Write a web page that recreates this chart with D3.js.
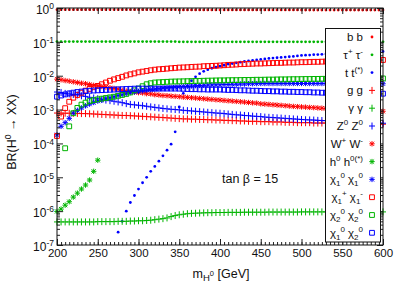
<!DOCTYPE html>
<html><head><meta charset="utf-8">
<script src="https://cdn.jsdelivr.net/npm/d3@7"></script>
<style>
body{margin:0;background:#fff}
svg{display:block}
text{font-family:"Liberation Sans",Arial,Helvetica,sans-serif;fill:#111}
</style>
</head><body>
<svg id="c" width="409" height="286"></svg>
<script>
// ---------------- data ----------------
const masses = [200,205,210,215,220,225,230,235,240,245,250,255,260,265,270,275,280,285,290,295,
300,305,310,315,320,325,330,335,340,345,350,355,360,365,370,375,380,385,390,395,
400,405,410,415,420,425,430,435,440,445,450,455,460,465,470,475,480,485,490,495,
500,505,510,515,520,525,530,535,540,545,550,555,560,565,570,575,580,585,590,595,600];

const brBB = [0.89,0.89,0.89,0.89,0.89,0.89,0.89,0.89,0.89,0.89,0.89,0.89,0.89,0.89,0.89,0.89,0.89,0.89,0.89,0.89,
0.89,0.89,0.89,0.89,0.89,0.89,0.89,0.89,0.89,0.89,0.88,0.88,0.88,0.88,0.88,0.88,0.88,0.88,0.88,0.88,
0.88,0.88,0.88,0.88,0.88,0.88,0.88,0.88,0.88,0.88,0.88,0.88,0.88,0.88,0.88,0.88,0.88,0.88,0.88,0.88,
0.87,0.87,0.87,0.87,0.87,0.87,0.87,0.87,0.87,0.87,0.87,0.87,0.87,0.87,0.87,0.87,0.87,0.87,0.87,0.87,0.87];

const brTauTau = [0.102,0.102,0.102,0.102,0.102,0.102,0.102,0.102,0.102,0.102,0.102,0.102,0.102,0.102,0.102,0.102,0.102,0.102,0.102,0.102,
0.102,0.102,0.102,0.102,0.102,0.102,0.102,0.102,0.102,0.102,0.100,0.100,0.100,0.100,0.100,0.100,0.100,0.100,0.100,0.100,
0.100,0.100,0.100,0.100,0.100,0.100,0.100,0.100,0.100,0.100,0.100,0.100,0.100,0.100,0.100,0.100,0.100,0.100,0.100,0.100,
0.100,0.100,0.100,0.100,0.100,0.100,0.100,0.100,0.100,0.100,0.100,0.100,0.100,0.100,0.100,0.100,0.100,0.100,0.100,0.100,0.100];

const brTT = [null,null,null,null,null,null,null,null,null,null,
null,null,null,null,null,2.4e-7,5.0e-7,1.0e-6,1.8e-6,2.9e-6,
4.5e-6,6.9e-6,1.0e-5,1.5e-5,2.1e-5,3.0e-5,4.3e-5,6.3e-5,9.5e-5,2.2e-4,
1.2e-3,3.0e-3,5.0e-3,7.1e-3,9.3e-3,1.15e-2,1.35e-2,1.51e-2,1.66e-2,1.78e-2,
1.91e-2,2.04e-2,2.19e-2,2.29e-2,2.40e-2,2.51e-2,2.63e-2,2.72e-2,2.82e-2,2.92e-2,
3.02e-2,3.13e-2,3.24e-2,3.31e-2,3.39e-2,3.47e-2,3.55e-2,3.63e-2,3.72e-2,3.85e-2,
3.98e-2,4.03e-2,4.07e-2,4.17e-2,4.22e-2,4.27e-2,4.37e-2,4.42e-2,4.47e-2,4.52e-2,
4.57e-2,4.62e-2,4.68e-2,4.79e-2,4.84e-2,4.90e-2,4.95e-2,5.01e-2,5.07e-2,5.13e-2,5.19e-2];

const brGG = [7.9e-4,7.9e-4,7.8e-4,7.8e-4,7.7e-4,7.7e-4,7.6e-4,7.6e-4,7.5e-4,7.4e-4,
7.3e-4,7.2e-4,7.1e-4,7.0e-4,6.9e-4,6.8e-4,6.7e-4,6.7e-4,6.6e-4,6.5e-4,
6.4e-4,6.3e-4,6.2e-4,6.1e-4,6.0e-4,5.9e-4,5.8e-4,5.7e-4,5.6e-4,5.5e-4,
5.4e-4,5.3e-4,5.3e-4,5.2e-4,5.2e-4,5.1e-4,5.1e-4,5.0e-4,5.0e-4,4.9e-4,
4.9e-4,4.8e-4,4.8e-4,4.7e-4,4.7e-4,4.6e-4,4.6e-4,4.5e-4,4.5e-4,4.5e-4,
4.4e-4,4.4e-4,4.4e-4,4.3e-4,4.3e-4,4.3e-4,4.2e-4,4.2e-4,4.2e-4,4.1e-4,
4.1e-4,4.1e-4,4.1e-4,4.0e-4,4.0e-4,4.0e-4,4.0e-4,3.9e-4,3.9e-4,3.9e-4,
3.9e-4,3.9e-4,3.8e-4,3.8e-4,3.8e-4,3.8e-4,3.8e-4,3.7e-4,3.7e-4,3.7e-4,3.7e-4];

const brGamGam = [4.8e-7,4.8e-7,4.8e-7,4.8e-7,4.8e-7,4.8e-7,4.8e-7,4.8e-7,4.8e-7,4.8e-7,
4.9e-7,4.9e-7,4.9e-7,4.9e-7,4.9e-7,5.0e-7,5.0e-7,5.0e-7,5.1e-7,5.1e-7,
5.2e-7,5.2e-7,5.3e-7,5.4e-7,5.6e-7,5.8e-7,6.0e-7,6.3e-7,6.9e-7,7.4e-7,
7.8e-7,8.1e-7,8.4e-7,8.6e-7,8.7e-7,8.8e-7,8.9e-7,9.0e-7,9.0e-7,9.1e-7,
9.1e-7,9.1e-7,9.2e-7,9.2e-7,9.2e-7,9.2e-7,9.3e-7,9.3e-7,9.3e-7,9.3e-7,
9.3e-7,9.3e-7,9.4e-7,9.4e-7,9.4e-7,9.4e-7,9.4e-7,9.4e-7,9.4e-7,9.4e-7,
9.5e-7,9.5e-7,9.5e-7,9.5e-7,9.5e-7,9.5e-7,9.5e-7,9.5e-7,9.5e-7,9.5e-7,
9.5e-7,9.5e-7,9.5e-7,9.5e-7,9.5e-7,9.5e-7,9.5e-7,9.5e-7,9.5e-7,9.5e-7,9.5e-7];

const brZZ = [3.3e-3,3.2e-3,3.0e-3,2.9e-3,2.8e-3,2.7e-3,2.55e-3,2.45e-3,2.3e-3,2.2e-3,
2.1e-3,2.0e-3,1.9e-3,1.83e-3,1.76e-3,1.68e-3,1.6e-3,1.5e-3,1.42e-3,1.38e-3,
1.34e-3,1.3e-3,1.25e-3,1.2e-3,1.16e-3,1.12e-3,1.08e-3,1.05e-3,1.02e-3,1.0e-3,
9.8e-4,9.5e-4,9.3e-4,9.1e-4,8.9e-4,8.7e-4,8.5e-4,8.3e-4,8.1e-4,7.9e-4,
7.8e-4,7.6e-4,7.4e-4,7.2e-4,7.0e-4,6.9e-4,6.7e-4,6.6e-4,6.4e-4,6.3e-4,
6.2e-4,6.0e-4,5.9e-4,5.8e-4,5.7e-4,5.6e-4,5.5e-4,5.4e-4,5.3e-4,5.2e-4,
5.1e-4,5.0e-4,4.95e-4,4.9e-4,4.8e-4,4.75e-4,4.7e-4,4.6e-4,4.55e-4,4.5e-4,
4.45e-4,4.4e-4,4.35e-4,4.3e-4,4.25e-4,4.2e-4,4.15e-4,4.1e-4,4.05e-4,4.0e-4,3.95e-4];

const brWW = [7.9e-3,7.6e-3,7.2e-3,6.9e-3,6.6e-3,6.3e-3,6.0e-3,5.8e-3,5.5e-3,5.2e-3,
5.0e-3,4.8e-3,4.6e-3,4.4e-3,4.2e-3,4.0e-3,3.7e-3,3.5e-3,3.4e-3,3.3e-3,
3.16e-3,3.1e-3,2.95e-3,2.9e-3,2.75e-3,2.7e-3,2.6e-3,2.57e-3,2.5e-3,2.45e-3,
2.4e-3,2.34e-3,2.29e-3,2.24e-3,2.19e-3,2.14e-3,2.09e-3,2.04e-3,2.0e-3,1.95e-3,
1.91e-3,1.86e-3,1.82e-3,1.78e-3,1.74e-3,1.70e-3,1.66e-3,1.62e-3,1.58e-3,1.55e-3,
1.48e-3,1.45e-3,1.42e-3,1.39e-3,1.36e-3,1.33e-3,1.30e-3,1.27e-3,1.24e-3,1.22e-3,
1.20e-3,1.18e-3,1.16e-3,1.14e-3,1.12e-3,1.10e-3,1.08e-3,1.07e-3,1.05e-3,1.04e-3,
1.02e-3,1.01e-3,9.9e-4,9.8e-4,9.6e-4,9.5e-4,9.3e-4,9.2e-4,9.1e-4,9.0e-4,8.9e-4];

const brHH = [9.8e-7,1.15e-6,1.5e-6,1.9e-6,2.6e-6,3.4e-6,4.5e-6,5.9e-6,8.3e-6,1.5e-5,3.2e-5];

const brN1N1 = [1.8e-4,3.2e-4,4.1e-4,5.5e-4,7.9e-4,9.5e-4,1.12e-3,1.29e-3,1.45e-3,1.62e-3,
1.78e-3,1.9e-3,2.1e-3,2.25e-3,2.4e-3,2.6e-3,2.75e-3,2.95e-3,3.16e-3,3.3e-3,
3.45e-3,3.6e-3,3.75e-3,3.9e-3,4.0e-3,4.15e-3,4.3e-3,4.4e-3,4.5e-3,4.6e-3,
4.7e-3,4.8e-3,4.9e-3,5.0e-3,5.1e-3,5.15e-3,5.2e-3,5.3e-3,5.35e-3,5.4e-3,
5.4e-3,5.5e-3,5.5e-3,5.6e-3,5.6e-3,5.7e-3,5.7e-3,5.8e-3,5.8e-3,5.85e-3,
5.9e-3,5.9e-3,5.9e-3,5.9e-3,5.9e-3,5.9e-3,5.9e-3,5.9e-3,5.9e-3,5.9e-3,
5.9e-3,5.9e-3,5.9e-3,5.9e-3,5.9e-3,5.9e-3,5.9e-3,5.9e-3,5.85e-3,5.85e-3,
5.85e-3,5.85e-3,5.85e-3,5.85e-3,5.8e-3,5.8e-3,5.8e-3,5.8e-3,5.8e-3,5.8e-3,5.8e-3];

const brC1C1 = [1.66e-4,6.2e-4,1.10e-3,1.70e-3,2.24e-3,2.69e-3,3.16e-3,3.63e-3,4.07e-3,4.57e-3,
5.0e-3,5.6e-3,6.3e-3,7.1e-3,7.8e-3,8.5e-3,9.3e-3,1.02e-2,1.10e-2,1.17e-2,
1.26e-2,1.32e-2,1.38e-2,1.45e-2,1.51e-2,1.55e-2,1.58e-2,1.62e-2,1.66e-2,1.70e-2,
1.74e-2,1.76e-2,1.78e-2,1.82e-2,1.84e-2,1.86e-2,1.91e-2,1.93e-2,1.95e-2,1.97e-2,
2.0e-2,2.04e-2,2.09e-2,2.11e-2,2.14e-2,2.19e-2,2.21e-2,2.24e-2,2.26e-2,2.29e-2,
2.29e-2,2.32e-2,2.34e-2,2.37e-2,2.40e-2,2.40e-2,2.43e-2,2.45e-2,2.45e-2,2.48e-2,
2.51e-2,2.51e-2,2.54e-2,2.57e-2,2.57e-2,2.60e-2,2.63e-2,2.63e-2,2.66e-2,2.69e-2,
2.69e-2,2.72e-2,2.75e-2,2.75e-2,2.79e-2,2.82e-2,2.82e-2,2.85e-2,2.88e-2,2.88e-2,2.92e-2];

const brN2N2 = [null,null,7.2e-5,3.2e-4,7.8e-4,1.12e-3,1.4e-3,1.6e-3,1.78e-3,1.9e-3,
2.0e-3,2.1e-3,2.2e-3,2.3e-3,2.4e-3,2.55e-3,2.7e-3,2.9e-3,3.2e-3,3.7e-3,
4.2e-3,4.9e-3,5.6e-3,6.0e-3,6.3e-3,6.4e-3,6.5e-3,6.6e-3,6.7e-3,6.75e-3,
6.8e-3,6.85e-3,6.9e-3,6.95e-3,7.0e-3,7.05e-3,7.1e-3,7.15e-3,7.2e-3,7.25e-3,
7.3e-3,7.3e-3,7.35e-3,7.4e-3,7.4e-3,7.45e-3,7.5e-3,7.5e-3,7.55e-3,7.6e-3,
7.6e-3,7.65e-3,7.7e-3,7.7e-3,7.75e-3,7.8e-3,7.8e-3,7.85e-3,7.9e-3,7.9e-3,
7.95e-3,8.0e-3,8.0e-3,8.05e-3,8.05e-3,8.1e-3,8.1e-3,8.1e-3,8.15e-3,8.15e-3,
8.2e-3,8.2e-3,8.2e-3,8.25e-3,8.25e-3,8.25e-3,8.3e-3,8.3e-3,8.3e-3,8.3e-3,8.3e-3];

const brN1N2 = [2.4e-3,2.6e-3,2.8e-3,3.0e-3,3.16e-3,3.3e-3,3.4e-3,3.5e-3,3.6e-3,3.65e-3,
3.7e-3,3.75e-3,3.8e-3,3.85e-3,3.9e-3,3.95e-3,4.0e-3,4.05e-3,4.1e-3,4.15e-3,
4.17e-3,4.17e-3,4.17e-3,4.17e-3,4.17e-3,4.17e-3,4.17e-3,4.17e-3,4.17e-3,4.17e-3,
4.15e-3,4.1e-3,4.05e-3,4.0e-3,4.0e-3,3.95e-3,3.95e-3,3.9e-3,3.9e-3,3.9e-3,
3.9e-3,3.85e-3,3.8e-3,3.8e-3,3.75e-3,3.7e-3,3.7e-3,3.65e-3,3.6e-3,3.6e-3,
3.55e-3,3.5e-3,3.5e-3,3.45e-3,3.45e-3,3.4e-3,3.4e-3,3.35e-3,3.35e-3,3.3e-3,
3.3e-3,3.25e-3,3.25e-3,3.2e-3,3.2e-3,3.15e-3,3.15e-3,3.1e-3,3.1e-3,3.1e-3,
3.1e-3,3.05e-3,3.05e-3,3.0e-3,3.0e-3,3.0e-3,3.0e-3,2.95e-3,2.95e-3,2.95e-3,2.95e-3];

const xTicks = [200,250,300,350,400,450,500,550,600];
const yTickExps = [0,-1,-2,-3,-4,-5,-6,-7];

// legend labels: parts [text, kind]  kind: n normal, sup, sub
const legendLabels = [
  [["b b","n"]],
  [["τ","n"],["+","sup"],[" τ","n"],["-","sup"]],
  [["t t","n"],["(*)","sup"]],
  [["g g","n"]],
  [["γ γ","n"]],
  [["Z","n"],["0","sup"],[" Z","n"],["0","sup"]],
  [["W","n"],["+","sup"],[" W","n"],["-","sup"]],
  [["h","n"],["0","sup"],[" h","n"],["0(*)","sup"]],
  [["χ","n"],["1","sub"],["0","sup"],[" χ","n"],["1","sub"],["0","sup"]],
  [["χ","n"],["1","sub"],["+","sup"],[" χ","n"],["1","sub"],["-","sup"]],
  [["χ","n"],["2","sub"],["0","sup"],[" χ","n"],["2","sub"],["0","sup"]],
  [["χ","n"],["1","sub"],["0","sup"],[" χ","n"],["2","sub"],["0","sup"]]
];

const RED="#ff0000", GREEN="#00b400", BLUE="#0000ff";
const series = [
  {v:brBB, c:RED, m:"dot"},
  {v:brTauTau, c:GREEN, m:"dot"},
  {v:brTT, c:BLUE, m:"dot"},
  {v:brGG, c:RED, m:"plus"},
  {v:brGamGam, c:GREEN, m:"plus"},
  {v:brZZ, c:BLUE, m:"plus"},
  {v:brWW, c:RED, m:"star"},
  {v:brHH, c:GREEN, m:"star"},
  {v:brN1N1, c:BLUE, m:"star"},
  {v:brC1C1, c:RED, m:"square"},
  {v:brN2N2, c:GREEN, m:"square"},
  {v:brN1N2, c:BLUE, m:"square"}
];

// ---------------- drawing ----------------
const svg = d3.select("#c");
const L=57, R=383, T=8, B=245;
const x = d3.scaleLinear().domain([200,600]).range([L,R]);
const y = d3.scaleLog().domain([1e-7,1]).range([B,T]);

const markerPath = {
  plus:"M-3,0H3M0,-3.5V3.5",
  star:"M-2.7,0H2.7M0,-2.7V2.7M-2.1,-2.1L2.1,2.1M-2.1,2.1L2.1,-2.1",
  square:"M-2.4,-2.4H2.4V2.4H-2.4Z"
};
function drawMarker(g, kind, color){
  if(kind==="dot"){
    g.append("circle").attr("r",1.4).attr("fill",color);
  } else {
    g.append("path").attr("d",markerPath[kind]).attr("fill","none")
     .attr("stroke",color).attr("stroke-width",1);
  }
}

const plot = svg.append("g");
series.forEach(s=>{
  const pts = s.v.map((v,i)=>({m:masses[i],v})).filter(d=>d.v!=null);
  const gs = plot.append("g").selectAll("g").data(pts).join("g")
    .attr("transform",d=>`translate(${x(d.m)},${y(d.v)})`);
  gs.each(function(){ drawMarker(d3.select(this), s.m, s.c); });
});

// axes
const minorX = masses;
const minorY = [];
for(let e=-7;e<0;e++) for(let k=2;k<=9;k++) minorY.push(k*Math.pow(10,e));
const majorY = yTickExps.map(e=>Math.pow(10,e));

function styleAxis(g){ g.select(".domain").remove(); g.selectAll("line").attr("stroke","#222"); }

svg.append("g").attr("transform",`translate(0,${B})`)
  .call(d3.axisBottom(x).tickValues(minorX).tickSizeInner(-3).tickSizeOuter(0).tickFormat(""))
  .call(styleAxis);
svg.append("g").attr("transform",`translate(0,${T})`)
  .call(d3.axisTop(x).tickValues(minorX).tickSizeInner(-3).tickSizeOuter(0).tickFormat(""))
  .call(styleAxis);
const xb = svg.append("g").attr("transform",`translate(0,${B})`)
  .call(d3.axisBottom(x).tickValues(xTicks).tickSizeInner(-6).tickSizeOuter(0).tickPadding(4).tickFormat(d3.format("d")))
  .call(styleAxis);
xb.selectAll("text").attr("font-size","11.5px").attr("fill","#111");
svg.append("g").attr("transform",`translate(0,${T})`)
  .call(d3.axisTop(x).tickValues(xTicks).tickSizeInner(-6).tickSizeOuter(0).tickFormat(""))
  .call(styleAxis);

svg.append("g").attr("transform",`translate(${L},0)`)
  .call(d3.axisLeft(y).tickValues(minorY).tickSizeInner(-3).tickSizeOuter(0).tickFormat(""))
  .call(styleAxis);
svg.append("g").attr("transform",`translate(${R},0)`)
  .call(d3.axisRight(y).tickValues(minorY).tickSizeInner(-3).tickSizeOuter(0).tickFormat(""))
  .call(styleAxis);
const yl = svg.append("g").attr("transform",`translate(${L},0)`)
  .call(d3.axisLeft(y).tickValues(majorY).tickSizeInner(-6).tickSizeOuter(0).tickPadding(3).tickFormat(""))
  .call(styleAxis);
svg.append("g").attr("transform",`translate(${R},0)`)
  .call(d3.axisRight(y).tickValues(majorY).tickSizeInner(-6).tickSizeOuter(0).tickFormat(""))
  .call(styleAxis);
yl.selectAll(".tick text").each(function(d){
  const t = d3.select(this).attr("font-size","12px").attr("fill","#111").attr("dy","0.45em");
  t.append("tspan").text("10");
  t.append("tspan").attr("font-size","8.5px").attr("dy","-0.55em").text(String(Math.round(Math.log10(d))));
});

// frame
svg.append("rect").attr("x",L).attr("y",T).attr("width",R-L).attr("height",B-T)
  .attr("fill","none").attr("stroke","#111").attr("stroke-width",1);

// axis titles
const xt = svg.append("text").attr("x",221).attr("y",278).attr("text-anchor","middle").attr("font-size","12.5px");
xt.append("tspan").text("m");
xt.append("tspan").attr("font-size","9.5px").attr("dy","3").text("H");
xt.append("tspan").attr("font-size","7.5px").attr("dy","-5").text("0");
xt.append("tspan").attr("dy","2").text(" [GeV]");

const ytt = svg.append("text").attr("transform","translate(16,132) rotate(-90)")
  .attr("text-anchor","middle").attr("font-size","12.5px");
ytt.append("tspan").text("BR(H");
ytt.append("tspan").attr("font-size","8.5px").attr("dy","-5").text("0");
ytt.append("tspan").attr("dy","5").text(" → XX)");

svg.append("text").attr("x",222).attr("y",183).attr("font-size","12.5px").text("tan β = 15");

// legend
svg.append("rect").attr("x",325.5).attr("y",28.5).attr("width",55).attr("height",213.5)
  .attr("fill","#fff").attr("stroke","#111").attr("stroke-width",1);
legendLabels.forEach((parts,i)=>{
  const cy = 37 + i*17.8;
  const t = svg.append("text").attr("x",363).attr("y",cy+4).attr("text-anchor","end").attr("font-size","11.5px");
  let cur = 0;
  parts.forEach(([s,k])=>{
    let target = k==="sup"?-5:(k==="sub"?3:0);
    const ts = t.append("tspan").text(s).attr("dy",target-cur);
    if(k!=="n") ts.attr("font-size","8px");
    cur = target;
  });
  const g = svg.append("g").attr("transform",`translate(372,${cy})`);
  drawMarker(g, series[i].m, series[i].c);
});
</script>
</body></html>
